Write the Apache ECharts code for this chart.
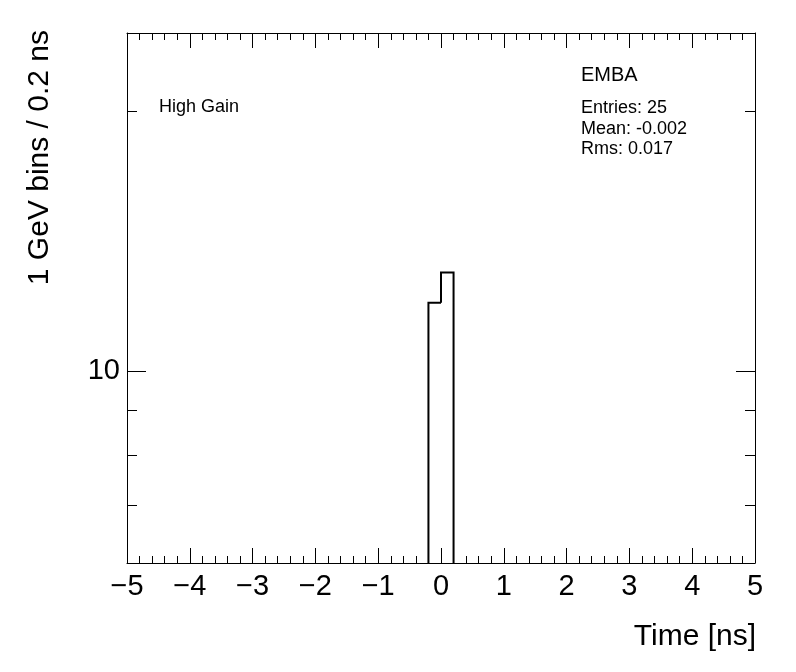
<!DOCTYPE html>
<html>
<head>
<meta charset="utf-8">
<script src="https://cdn.jsdelivr.net/npm/echarts@6/dist/echarts.min.js"></script>
<style>html,body{margin:0;padding:0;background:#fff}#c{width:796px;height:672px}</style>
</head>
<body>
<div id="c"></div>
<script>
// ---- data ----
var binStart = [-0.2, 0.0];     // lower edge of non-empty bins [ns]
var binCounts = [12, 13];       // entries per bin
var binWidth = 0.2;
var xTickLabels = [-5, -4, -3, -2, -1, 0, 1, 2, 3, 4, 5];
var yMajorTicks = [10];
var yMinorTicks = [7, 8, 9, 20];
var statLines = ['Entries: 25', 'Mean: -0.002', 'Rms: 0.017'];

var FONT = 'Liberation Sans, Arial, Helvetica, sans-serif';
var yMin = 6, yMax = 24.6;

var chart = echarts.init(document.getElementById('c'), null, {renderer: 'canvas'});

function fmtX(v) { return String(v).replace('-', '\u2212'); }

function xAxisDef(pos, showLabel) {
  return {
    type: 'value', position: pos, min: -5, max: 5, interval: 1,
    axisLine: {show: true, onZero: false, lineStyle: {color: '#000', width: 1}},
    axisTick: {show: true, inside: true, length: 15, lineStyle: {color: '#000', width: 1}},
    minorTick: {show: true, splitNumber: 5, length: 7, lineStyle: {color: '#000', width: 1}},
    axisLabel: {show: showLabel, color: '#000', fontSize: 29, fontFamily: FONT, margin: 9,
      formatter: function (v) { return xTickLabels.indexOf(v) >= 0 ? fmtX(v) : ''; },
      showMinLabel: true, showMaxLabel: true},
    splitLine: {show: false}
  };
}

function yAxisDef(pos, ticks, len, showLabel, showLine) {
  return {
    type: 'log', logBase: 10, position: pos, min: yMin, max: yMax,
    axisLine: {show: showLine, onZero: false, lineStyle: {color: '#000', width: 1}},
    axisTick: {show: true, inside: true, length: len, customValues: ticks, lineStyle: {color: '#000', width: 1}},
    axisLabel: {show: showLabel, customValues: ticks, color: '#000', fontSize: 29, fontFamily: FONT, margin: 7},
    splitLine: {show: false},
    minorTick: {show: false}
  };
}

var option = {
  animation: false,
  backgroundColor: '#fff',
  grid: {left: 127, right: 41, top: 33, bottom: 109, containLabel: false},
  xAxis: [xAxisDef('bottom', true), xAxisDef('top', false)],
  yAxis: [
    yAxisDef('left', yMajorTicks, 19, true, true),
    yAxisDef('left', yMinorTicks, 10, false, false),
    yAxisDef('right', yMajorTicks, 19, false, true),
    yAxisDef('right', yMinorTicks, 10, false, false)
  ],
  series: [{
    type: 'custom',
    xAxisIndex: 0, yAxisIndex: 0,
    clip: false,
    data: binStart.map(function (s, i) { return [s, binCounts[i]]; }),
    renderItem: function (params, api) {
      var i = params.dataIndex;
      var x0 = api.value(0), cnt = api.value(1), x1 = x0 + binWidth;
      var cs = params.coordSys;
      var bottom = cs.y + cs.height;
      var prevAdj = i > 0 && Math.abs(binStart[i - 1] + binWidth - x0) < 1e-9;
      var nextAdj = i < binStart.length - 1 && Math.abs(binStart[i + 1] - x1) < 1e-9;
      var pTop0 = api.coord([x0, cnt]);
      var pTop1 = api.coord([x1, cnt]);
      var startY = prevAdj ? api.coord([x0, binCounts[i - 1]])[1] : bottom;
      var pts = [[pTop0[0], startY], pTop0, pTop1];
      if (!nextAdj) pts.push([pTop1[0], bottom]);
      return {
        type: 'polyline',
        shape: {points: pts},
        style: {stroke: '#000', lineWidth: 2, fill: null}
      };
    }
  }],
  graphic: [
    {type: 'text', left: 159, top: 98, style: {text: 'High Gain', font: '18px ' + FONT, fill: '#000'}},
    {type: 'text', left: 581, top: 65, style: {text: 'EMBA', font: '20px ' + FONT, fill: '#000'}},
    {type: 'text', left: 581, top: 98, style: {text: statLines.join('\n'), font: '18px ' + FONT, fill: '#000', lineHeight: 20.5}},
    {type: 'text', x: 40, y: 30, rotation: Math.PI / 2,
      style: {text: '1 GeV bins / 0.2 ns', font: '30px ' + FONT, fill: '#000', align: 'right', verticalAlign: 'middle'}},
    {type: 'text', x: 756, y: 637,
      style: {text: 'Time [ns]', font: '30px ' + FONT, fill: '#000', align: 'right', verticalAlign: 'middle'}}
  ]
};
chart.setOption(option);
</script>
</body>
</html>
